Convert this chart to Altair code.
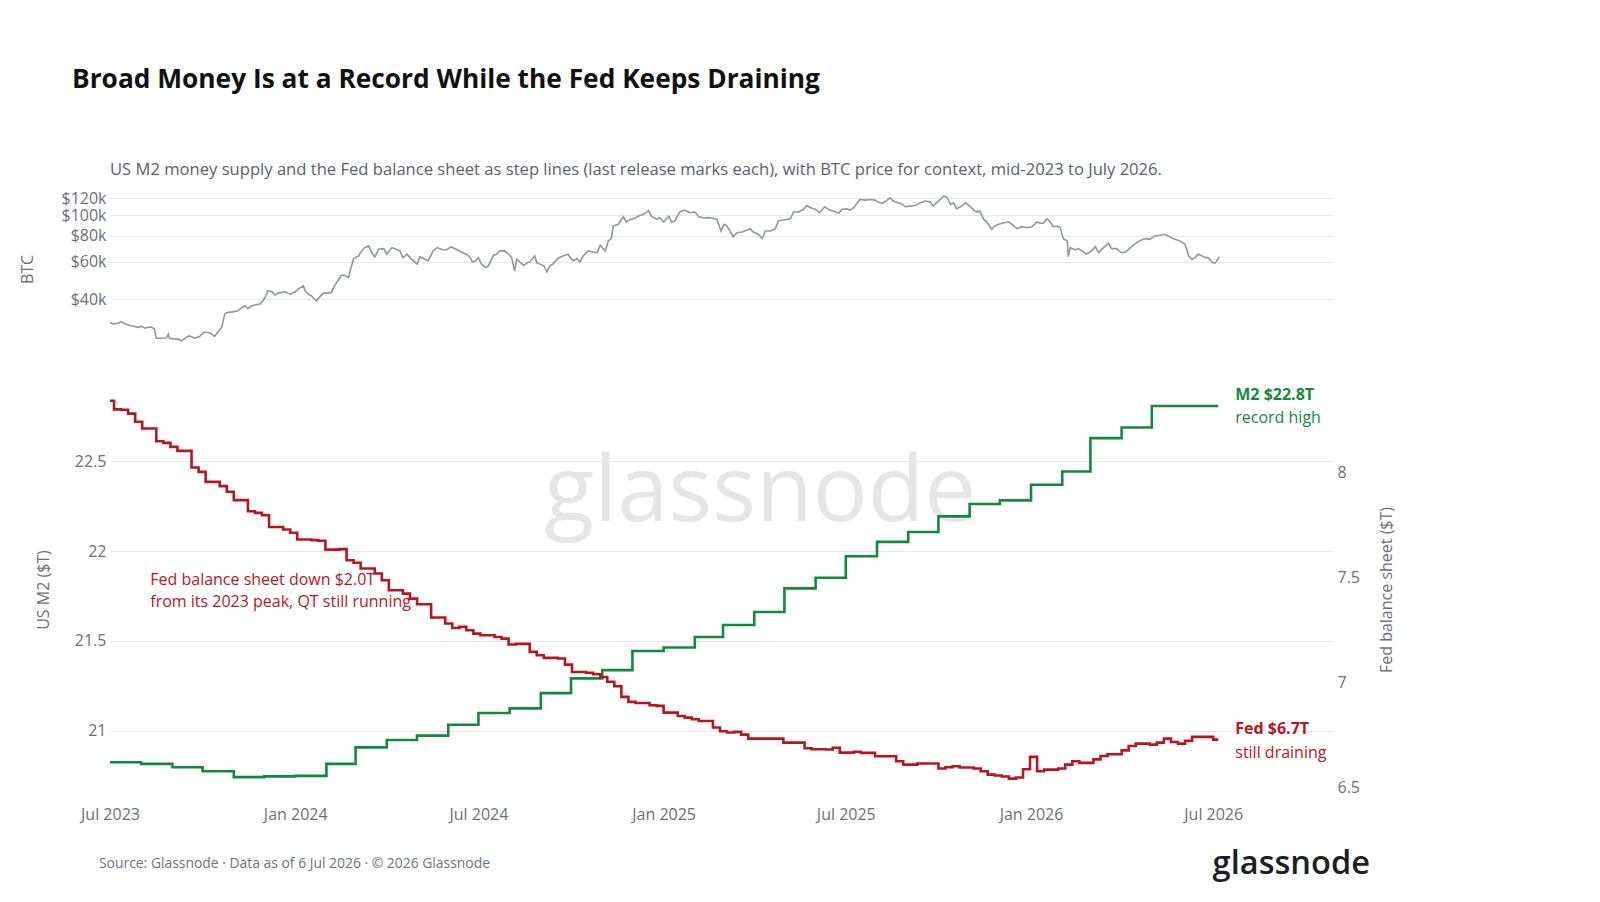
import altair as alt
import pandas as pd

FONT = "Open Sans"
GRID = "#e8e8e8"
AXIS_TXT = "#6b6f78"
BTC_COLOR = "#8f96a1"
M2_COLOR = "#12893b"
FED_COLOR = "#b8161d"

TITLE = "Broad Money Is at a Record While the Fed Keeps Draining"
SUBTITLE = ("US M2 money supply and the Fed balance sheet as step lines (last release marks each), "
            "with BTC price for context, mid-2023 to July 2026.")
FOOTER = "Source: Glassnode \u00b7 Data as of 6 Jul 2026 \u00b7 \u00a9 2026 Glassnode"

# ---------------- BTC price (days after 2023-07-01, price in $k) ----------------
btc_start = "2023-07-01"
btc_day = [0, 3, 8, 11, 15, 21, 28, 31, 35, 38, 41, 44, 46, 51, 56, 58, 59, 64, 69, 71,
           76, 79, 84, 89, 93, 98, 101, 104, 108, 111, 114, 117, 122, 127, 131, 134, 137, 141, 144, 149,
           152, 154, 157, 161, 164, 167, 174, 179, 184, 187, 192, 194, 197, 200, 205, 207, 212, 217, 220, 223,
           227, 230, 233, 237, 240, 242, 247, 250, 253, 257, 260, 263, 267, 272, 275, 280, 283, 288, 291, 295,
           298, 305, 308, 313, 316, 321, 325, 329, 334, 339, 344, 349, 354, 358, 360,
           363, 366, 369, 373, 376, 381, 384, 387, 392, 396, 399, 402, 404, 407, 411, 414, 417, 422, 424, 427,
           431, 434, 437, 440, 445, 450, 455, 460, 464, 467, 470, 475, 480, 484, 487, 492, 495, 498, 500, 505,
           510, 513, 517, 522, 525, 530, 535, 538, 543, 546, 550, 555, 558, 561, 566, 571, 576, 581, 585, 590,
           594, 599, 603, 607, 610, 613, 616, 619, 623, 628, 633, 636, 639, 644, 648, 651, 656, 661, 664, 669,
           676, 679, 684, 689, 692, 696, 701, 705, 710, 715, 720, 724, 727, 732,
           735, 739, 742, 745, 750, 755, 760, 763, 767, 772, 775, 778, 783, 787, 790, 795, 800, 805, 810, 815,
           818, 821, 825, 828, 831, 835, 838, 841, 845, 850, 855, 858, 861, 864, 868, 871, 876, 879, 883, 888,
           893, 896, 901, 906, 911, 916, 921, 924, 927, 931, 934, 937, 941, 944, 947, 951, 952, 954, 959, 962,
           966, 970, 975, 979, 982, 987, 992, 995, 1000, 1004, 1009, 1014, 1019, 1024, 1028, 1033, 1038, 1043, 1048, 1053,
           1058, 1063, 1068, 1072, 1075, 1078, 1081, 1085, 1088, 1091, 1095, 1098, 1102]
btc_k = [31.0, 30.5, 30.7, 31.3, 30.5, 29.9, 29.4, 29.7, 29.1, 29.4, 29.5, 28.9, 26.1, 26.1, 26.2, 27.3, 26.1, 25.9, 25.7, 25.3,
         26.4, 26.8, 26.1, 26.6, 27.8, 27.8, 27.3, 26.6, 28.3, 29.4, 34.0, 34.6, 34.8, 35.2, 36.5, 37.2, 36.1, 37.2, 37.5, 37.9,
         39.3, 40.7, 43.8, 43.3, 41.8, 42.7, 43.3, 42.2, 43.3, 44.6, 46.2, 43.8, 42.2, 41.5, 39.3, 40.3, 42.7, 42.7, 43.0, 46.2,
         49.4, 51.9, 51.9, 50.6, 57.5, 62.3, 64.1, 67.7, 70.2, 71.5, 66.5, 63.4, 68.9, 69.4, 65.3, 70.2, 69.4, 67.7, 62.9, 65.3,
         62.9, 58.6, 63.4, 61.8, 60.7, 67.7, 70.2, 68.9, 68.4, 70.7, 68.9, 66.9, 65.3, 62.9, 60.0,
         60.7, 62.9, 58.6, 56.5, 57.5, 64.6, 65.3, 67.7, 67.7, 65.3, 62.9, 54.4, 61.8, 60.0, 57.9, 59.2, 60.0, 64.1, 59.6, 58.6,
         57.5, 53.9, 57.5, 58.6, 62.3, 64.1, 65.3, 60.7, 62.3, 60.0, 64.1, 67.7, 66.9, 66.5, 72.0, 67.7, 75.5, 77.4, 88.8, 90.5,
         98.3, 92.8, 95.5, 96.9, 99.0, 100.9, 105.0, 99.0, 95.5, 97.3, 92.8, 99.0, 92.8, 93.8, 103.5, 105.7, 102.7, 103.5, 98.3, 96.9,
         97.3, 96.6, 95.5, 84.1, 90.5, 88.8, 84.1, 79.1, 82.6, 83.2, 85.1, 86.3, 83.2, 81.2, 77.4, 84.1, 84.1, 86.3, 93.8, 94.8,
         96.2, 103.5, 103.5, 106.5, 111.2, 108.5, 106.5, 102.7, 109.6, 105.7, 104.2, 102.0, 106.5, 107.3,
         105.7, 108.5, 113.7, 118.7, 117.9, 118.7, 117.9, 115.4, 113.7, 117.9, 120.9, 116.6, 114.5, 112.5, 109.6, 110.4, 111.2, 114.5, 116.6, 115.4,
         110.4, 114.5, 118.7, 123.1, 122.3, 112.5, 114.5, 107.3, 109.6, 114.5, 109.6, 105.7, 103.5, 104.6, 95.5, 92.8, 85.7, 88.8, 90.5, 92.1,
         92.8, 90.5, 86.3, 88.2, 87.2, 88.2, 92.8, 91.5, 91.5, 96.2, 92.8, 88.2, 88.8, 87.2, 77.4, 75.5, 63.6, 70.2, 68.4, 69.4,
         67.7, 65.3, 67.7, 70.9, 66.5, 70.2, 73.6, 69.4, 69.4, 66.5, 66.9, 70.2, 73.6, 76.0, 77.4, 76.8, 79.7, 80.3, 81.2, 78.8,
         76.8, 75.5, 72.8, 63.6, 61.8, 62.9, 65.3, 64.1, 62.9, 62.9, 59.6, 59.2, 63.4]

# ---------------- US M2 monthly ($T), step line; last release held to data date ----------------
m2_first_month = "2023-07-01"
m2_val = [20.824, 20.815, 20.796, 20.774, 20.741, 20.745, 20.748, 20.815, 20.907, 20.948,
          20.972, 21.033, 21.098, 21.124, 21.209, 21.291, 21.337, 21.444, 21.463, 21.522,
          21.589, 21.661, 21.793, 21.852, 21.972, 22.052, 22.107, 22.194, 22.263, 22.283,
          22.370, 22.444, 22.630, 22.689, 22.809]
data_asof = "2026-07-06"

# ---------------- Fed balance sheet weekly ($T) ----------------
fed_open_date = "2023-07-01"
fed_open_val = 8.343
fed_first_week = "2023-07-05"
fed_val = [8.302, 8.300, 8.282, 8.243, 8.211, 8.211, 8.150, 8.142, 8.123, 8.104,
           8.104, 8.025, 8.004, 7.956, 7.956, 7.936, 7.909, 7.869, 7.869, 7.816,
           7.808, 7.797, 7.741, 7.741, 7.729, 7.713, 7.681, 7.681, 7.678, 7.675,
           7.633, 7.633, 7.635, 7.582, 7.570, 7.543, 7.543, 7.519, 7.487, 7.439,
           7.439, 7.423, 7.399, 7.372, 7.372, 7.309, 7.309, 7.280, 7.259, 7.264,
           7.248, 7.232, 7.224, 7.224, 7.216, 7.208, 7.180, 7.183, 7.183, 7.145,
           7.129, 7.116, 7.116, 7.113, 7.084, 7.049, 7.049, 7.045, 7.038, 7.025,
           7.002, 6.981, 6.930, 6.906, 6.901, 6.901, 6.890, 6.887, 6.855, 6.855,
           6.839, 6.831, 6.823, 6.815, 6.815, 6.784, 6.766, 6.760, 6.763, 6.750,
           6.731, 6.731, 6.731, 6.731, 6.731, 6.712, 6.712, 6.712, 6.685, 6.680,
           6.680, 6.679, 6.687, 6.664, 6.664, 6.668, 6.663, 6.663, 6.647, 6.647,
           6.647, 6.623, 6.607, 6.607, 6.612, 6.612, 6.612, 6.588, 6.594, 6.599,
           6.593, 6.593, 6.588, 6.575, 6.559, 6.555, 6.550, 6.540, 6.545, 6.585,
           6.644, 6.575, 6.583, 6.583, 6.588, 6.607, 6.623, 6.615, 6.615, 6.632,
           6.648, 6.656, 6.656, 6.675, 6.696, 6.707, 6.707, 6.702, 6.712, 6.731,
           6.715, 6.707, 6.720, 6.739, 6.739, 6.739, 6.726]

x_tick_dates = [(2023, 7), (2024, 1), (2024, 7), (2025, 1), (2025, 7), (2026, 1), (2026, 7)]
x_domain = [(2023, 7, 1), (2026, 10, 27)]
btc_ticks = [40, 60, 80, 100, 120]
m2_ticks = [21, 21.5, 22, 22.5]
fed_ticks = [6.5, 7, 7.5, 8]

# annotations
m2_note = ["M2 $22.8T", "record high"]
fed_note = ["Fed $6.7T", "still draining"]
qt_note = ["Fed balance sheet down $2.0T", "from its 2023 peak, QT still running"]
qt_note_date = "2023-08-10"
qt_note_m2 = [21.842, 21.717]

# ---------------- tables ----------------
def iso(ts):
    return pd.Timestamp(ts).strftime("%Y-%m-%d")

btc_df = pd.DataFrame({
    "date": [iso(pd.Timestamp(btc_start) + pd.Timedelta(days=d)) for d in btc_day],
    "btc": btc_k,
})

m2_dates = [iso(d) for d in pd.date_range(m2_first_month, periods=len(m2_val), freq="MS")]
m2_df = pd.DataFrame({"date": m2_dates + [data_asof], "m2": m2_val + [m2_val[-1]]})

fed_dates = [iso(d) for d in pd.date_range(fed_first_week, periods=len(fed_val), freq="7D")]
fed_df = pd.DataFrame({"date": [fed_open_date] + fed_dates + [data_asof],
                       "fed": [fed_open_val] + fed_val + [fed_val[-1]]})

m2_end = pd.DataFrame({"date": [data_asof], "m2": [m2_val[-1]], "a": [m2_note[0]], "b": [m2_note[1]]})
fed_end = pd.DataFrame({"date": [data_asof], "fed": [fed_val[-1]], "a": [fed_note[0]], "b": [fed_note[1]]})
qt_df = pd.DataFrame({"date": [qt_note_date] * 2, "m2": qt_note_m2, "t": qt_note})
one = pd.DataFrame({"t": ["glassnode"]})
foot = pd.DataFrame({"t": [FOOTER]})

W = 1222
dom = alt.Scale(type="utc", domain=[alt.DateTime(year=y, month=m, date=d, utc=True) for (y, m, d) in x_domain])
x_vals = [alt.DateTime(year=y, month=m, date=1, utc=True) for (y, m) in x_tick_dates]

# ---------------- top panel: BTC ----------------
top = alt.Chart(btc_df).mark_line(color=BTC_COLOR, strokeWidth=1.6).encode(
    x=alt.X("date:T", scale=dom, axis=None),
    y=alt.Y("btc:Q",
            scale=alt.Scale(type="log", domain=[24.5, 126], nice=False),
            axis=alt.Axis(values=btc_ticks, labelExpr="'$' + datum.value + 'k'", title="BTC",
                          titleX=-83, titleBaseline="middle", labelPadding=4)),
).properties(
    width=W, height=150,
    title=alt.Title(SUBTITLE, anchor="start", frame="group", fontSize=16.6, fontWeight="normal",
                    color="#5b616b", font=FONT, offset=12),
)

# ---------------- bottom panel ----------------
xb = alt.X("date:T", scale=dom,
           axis=alt.Axis(values=x_vals, labelExpr="utcFormat(datum.value, '%b %Y')", grid=False,
                         labelFlush=False, labelPadding=19, title=None))
m2_scale = alt.Scale(domain=[20.686, 22.887], nice=False, zero=False)
fed_scale = alt.Scale(domain=[6.5, 8.385], nice=False, zero=False)
m2_axis = alt.Axis(orient="left", values=m2_ticks, format="~g", title="US M2 ($T)",
                   titleX=-67, titleBaseline="middle", labelPadding=4)
fed_axis = alt.Axis(orient="right", values=fed_ticks, format="~g", title="Fed balance sheet ($T)",
                    titleAngle=270, titleX=54, titleBaseline="middle", labelPadding=5)

watermark = alt.Chart(one).mark_text(
    fontSize=92, color="#e6e6e6", font=FONT, align="center", baseline="middle"
).encode(x=alt.value(650), y=alt.value(101), text="t:N")

m2_line = alt.Chart(m2_df).mark_line(color=M2_COLOR, strokeWidth=2.6, interpolate="step-after").encode(
    x=xb,
    y=alt.Y("m2:Q", scale=m2_scale, axis=m2_axis),
)
m2_a = alt.Chart(m2_end).mark_text(color=M2_COLOR, fontWeight="bold", fontSize=16, align="left",
                                   baseline="middle", dx=17, dy=-11).encode(
    x="date:T", y=alt.Y("m2:Q", scale=m2_scale, axis=m2_axis), text="a:N")
m2_b = alt.Chart(m2_end).mark_text(color=M2_COLOR, fontSize=16, align="left",
                                   baseline="middle", dx=17, dy=12).encode(
    x="date:T", y=alt.Y("m2:Q", scale=m2_scale, axis=m2_axis), text="b:N")
qt_text = alt.Chart(qt_df).mark_text(color=FED_COLOR, fontSize=16, align="left", baseline="middle").encode(
    x="date:T", y=alt.Y("m2:Q", scale=m2_scale, axis=m2_axis), text="t:N")
footer = alt.Chart(foot).mark_text(fontSize=13.9, color="#6b7280", align="left", baseline="middle").encode(
    x=alt.value(-11), y=alt.value(472), text="t:N")
logo = alt.Chart(one).mark_text(fontSize=32.6, color="#1d1f23", align="right", baseline="middle",
                                fontWeight=600).encode(
    x=alt.value(1260), y=alt.value(472), text="t:N")

left = alt.layer(watermark, m2_line, m2_a, m2_b, qt_text, footer, logo)

fed_line = alt.Chart(fed_df).mark_line(color=FED_COLOR, strokeWidth=2.6, interpolate="step-after").encode(
    x=xb,
    y=alt.Y("fed:Q", scale=fed_scale, axis=fed_axis),
)
fed_a = alt.Chart(fed_end).mark_text(color=FED_COLOR, fontWeight="bold", fontSize=16, align="left",
                                     baseline="middle", dx=17, dy=-11).encode(
    x="date:T", y=alt.Y("fed:Q", scale=fed_scale, axis=fed_axis), text="a:N")
fed_b = alt.Chart(fed_end).mark_text(color=FED_COLOR, fontSize=16, align="left",
                                     baseline="middle", dx=17, dy=13).encode(
    x="date:T", y=alt.Y("fed:Q", scale=fed_scale, axis=fed_axis), text="b:N")

right = alt.layer(fed_line, fed_a, fed_b)

bottom = alt.layer(left, right).resolve_scale(y="independent").properties(width=W, height=395)

chart = alt.vconcat(top, bottom, spacing=48, bounds="flush").properties(
    title=alt.Title(TITLE, anchor="start", fontSize=26.3, fontWeight="bold", color="#111111",
                    font=FONT, offset=69, dx=53),
    padding={"left": 11, "top": 58, "right": 20, "bottom": 10},
).configure_view(stroke=None).configure_axis(
    domain=False, ticks=False, gridColor=GRID, gridWidth=1,
    labelFont=FONT, labelFontSize=16, labelColor=AXIS_TXT,
    titleFont=FONT, titleFontSize=16, titleColor=AXIS_TXT, titleFontWeight="normal",
).configure_text(font=FONT)

chart.save("out.html", embed_options={"renderer": "svg", "actions": False})
